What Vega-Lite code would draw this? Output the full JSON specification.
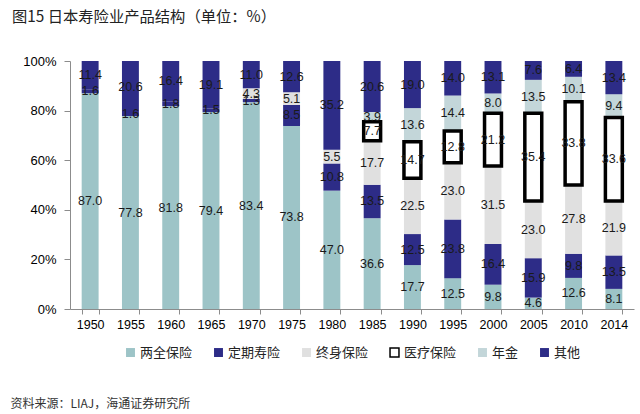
{
  "$schema": "https://vega.github.io/schema/vega-lite/v6.json",
  "width": 564,
  "height": 248,
  "autosize": {"type": "none"},
  "padding": {"left": 70, "top": 61, "right": 6, "bottom": 105},
  "background": "white",
  "config": {"view": {"stroke": null}, "font": "Liberation Sans"},
  "title": {
    "text": "图15 日本寿险业产品结构（单位：%）",
    "anchor": "start",
    "frame": "group",
    "dx": -58,
    "offset": 30,
    "fontSize": 15.3,
    "font": "Noto Sans CJK SC",
    "fontWeight": "normal",
    "color": "#222222"
  },
  "datasets": {
    "kinds": [
      {"type": "两全保险", "rank": 1},
      {"type": "定期寿险", "rank": 2},
      {"type": "终身保险", "rank": 3},
      {"type": "医疗保险", "rank": 4},
      {"type": "年金", "rank": 5},
      {"type": "其他", "rank": 6}
    ]
  },
  "data": {
    "values": [
      {"year": "1950", "type": "两全保险", "value": 87.0},
      {"year": "1950", "type": "定期寿险", "value": 1.6},
      {"year": "1950", "type": "其他", "value": 11.4},
      {"year": "1955", "type": "两全保险", "value": 77.8},
      {"year": "1955", "type": "定期寿险", "value": 1.6},
      {"year": "1955", "type": "其他", "value": 20.6},
      {"year": "1960", "type": "两全保险", "value": 81.8},
      {"year": "1960", "type": "定期寿险", "value": 1.8},
      {"year": "1960", "type": "其他", "value": 16.4},
      {"year": "1965", "type": "两全保险", "value": 79.4},
      {"year": "1965", "type": "定期寿险", "value": 1.5},
      {"year": "1965", "type": "其他", "value": 19.1},
      {"year": "1970", "type": "两全保险", "value": 83.4},
      {"year": "1970", "type": "定期寿险", "value": 1.3},
      {"year": "1970", "type": "终身保险", "value": 4.3},
      {"year": "1970", "type": "其他", "value": 11.0},
      {"year": "1975", "type": "两全保险", "value": 73.8},
      {"year": "1975", "type": "定期寿险", "value": 8.5},
      {"year": "1975", "type": "终身保险", "value": 5.1},
      {"year": "1975", "type": "其他", "value": 12.6},
      {"year": "1980", "type": "两全保险", "value": 47.0},
      {"year": "1980", "type": "定期寿险", "value": 10.8},
      {"year": "1980", "type": "终身保险", "value": 5.5},
      {"year": "1980", "type": "其他", "value": 35.2},
      {"year": "1985", "type": "两全保险", "value": 36.6},
      {"year": "1985", "type": "定期寿险", "value": 13.5},
      {"year": "1985", "type": "终身保险", "value": 17.7},
      {"year": "1985", "type": "年金", "value": 3.9},
      {"year": "1985", "type": "其他", "value": 20.6},
      {"year": "1985", "type": "医疗保险", "value": 7.7},
      {"year": "1990", "type": "两全保险", "value": 17.7},
      {"year": "1990", "type": "定期寿险", "value": 12.5},
      {"year": "1990", "type": "终身保险", "value": 22.5},
      {"year": "1990", "type": "年金", "value": 13.6},
      {"year": "1990", "type": "其他", "value": 19.0},
      {"year": "1990", "type": "医疗保险", "value": 14.7},
      {"year": "1995", "type": "两全保险", "value": 12.5},
      {"year": "1995", "type": "定期寿险", "value": 23.8},
      {"year": "1995", "type": "终身保险", "value": 23.0},
      {"year": "1995", "type": "年金", "value": 14.4},
      {"year": "1995", "type": "其他", "value": 14.0},
      {"year": "1995", "type": "医疗保险", "value": 12.8},
      {"year": "2000", "type": "两全保险", "value": 9.8},
      {"year": "2000", "type": "定期寿险", "value": 16.4},
      {"year": "2000", "type": "终身保险", "value": 31.5},
      {"year": "2000", "type": "年金", "value": 8.0},
      {"year": "2000", "type": "其他", "value": 13.1},
      {"year": "2000", "type": "医疗保险", "value": 21.2},
      {"year": "2005", "type": "两全保险", "value": 4.6},
      {"year": "2005", "type": "定期寿险", "value": 15.9},
      {"year": "2005", "type": "终身保险", "value": 23.0},
      {"year": "2005", "type": "年金", "value": 13.5},
      {"year": "2005", "type": "其他", "value": 7.6},
      {"year": "2005", "type": "医疗保险", "value": 35.4},
      {"year": "2010", "type": "两全保险", "value": 12.6},
      {"year": "2010", "type": "定期寿险", "value": 9.8},
      {"year": "2010", "type": "终身保险", "value": 27.8},
      {"year": "2010", "type": "年金", "value": 10.1},
      {"year": "2010", "type": "其他", "value": 6.4},
      {"year": "2010", "type": "医疗保险", "value": 33.8},
      {"year": "2014", "type": "两全保险", "value": 8.1},
      {"year": "2014", "type": "定期寿险", "value": 13.5},
      {"year": "2014", "type": "终身保险", "value": 21.9},
      {"year": "2014", "type": "年金", "value": 9.4},
      {"year": "2014", "type": "其他", "value": 13.4},
      {"year": "2014", "type": "医疗保险", "value": 33.6}
    ]
  },
  "transform": [
    {"lookup": "type", "from": {"data": {"name": "kinds"}, "key": "type", "fields": ["rank"]}}
  ],
  "encoding": {
    "x": {
      "field": "year",
      "type": "nominal",
      "scale": {"paddingInner": 0.58, "paddingOuter": 0.29},
      "axis": {
        "labelAngle": 0,
        "labelFontSize": 12.5,
        "labelColor": "#000000",
        "labelPadding": 4,
        "domainColor": "#8c8c8c",
        "tickColor": "#8c8c8c",
        "tickSize": 5,
        "tickBand": "extent",
        "title": "资料来源：LIAJ，海通证券研究所",
        "titleFont": "Noto Sans CJK SC",
        "titleFontSize": 12,
        "titleFontWeight": "normal",
        "titleColor": "#333333",
        "titleAnchor": "start",
        "titleAlign": "left",
        "titleBaseline": "middle",
        "titleX": -60,
        "titleY": 94
      }
    },
    "order": {"field": "rank", "type": "quantitative"}
  },
  "layer": [
    {
      "mark": {"type": "bar", "strokeWidth": 3.5},
      "encoding": {
        "y": {
          "field": "value",
          "type": "quantitative",
          "stack": "normalize",
          "scale": {"domain": [0, 1]},
          "axis": {
            "values": [0, 0.1, 0.2, 0.3, 0.4, 0.5, 0.6, 0.7, 0.8, 0.9, 1],
            "format": ".0%",
            "labelFontSize": 13,
            "labelColor": "#000000",
            "labelPadding": 8,
            "domainColor": "#8c8c8c",
            "tickColor": "#8c8c8c",
            "tickSize": 6,
            "grid": false,
            "title": null
          }
        },
        "fill": {
          "field": "type",
          "type": "nominal",
          "scale": {
            "domain": ["两全保险", "定期寿险", "终身保险", "医疗保险", "年金", "其他"],
            "range": ["#9DC4C7", "#2D2C87", "#E0E0E0", "#FFFFFF", "#C3D6D9", "#2D2C87"]
          },
          "legend": {
            "title": null,
            "orient": "none",
            "legendX": 54,
            "legendY": 285,
            "direction": "horizontal",
            "symbolType": "square",
            "symbolSize": 80,
            "labelFont": "Noto Sans CJK SC",
            "labelFontSize": 13,
            "labelColor": "#222222",
            "columnPadding": 18,
            "labelOffset": 3
          }
        },
        "stroke": {
          "field": "type",
          "type": "nominal",
          "scale": {
            "domain": ["两全保险", "定期寿险", "终身保险", "医疗保险", "年金", "其他"],
            "range": ["transparent", "transparent", "transparent", "#000000", "transparent", "transparent"]
          },
          "legend": {
            "title": null,
            "orient": "none",
            "legendX": 54,
            "legendY": 285,
            "direction": "horizontal",
            "symbolType": "square",
            "symbolSize": 80,
            "labelFont": "Noto Sans CJK SC",
            "labelFontSize": 13,
            "labelColor": "#222222",
            "columnPadding": 18,
            "labelOffset": 3
          }
        }
      }
    },
    {
      "mark": {"type": "text", "fontSize": 12.5, "baseline": "middle", "color": "#1a1a1a"},
      "encoding": {
        "y": {"field": "value", "type": "quantitative", "stack": "normalize", "bandPosition": 0.5},
        "detail": {"field": "type", "type": "nominal"},
        "text": {"field": "value", "type": "quantitative", "format": ".1f"}
      }
    }
  ]
}
